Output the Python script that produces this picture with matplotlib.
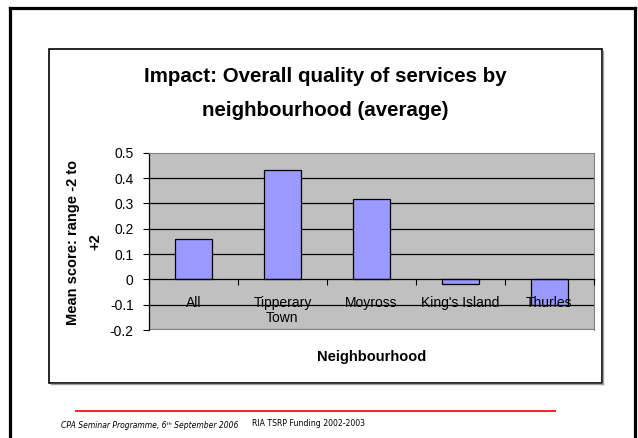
import matplotlib
matplotlib.use("Agg")
import matplotlib.pyplot as plt
from matplotlib.lines import Line2D
from matplotlib.patches import Rectangle
import numpy as np

plt.rcParams['font.family'] = ['Liberation Sans', 'DejaVu Sans']

barrios = ["All", "Tipperary\nTown", "Moyross", "King's Island", "Thurles"]
puntajes = [0.16, 0.433, 0.316, -0.02, -0.1]
marcas_y = [-0.2, -0.1, 0, 0.1, 0.2, 0.3, 0.4, 0.5]
etiquetas_y = ["-0.2", "-0.1", "0", "0.1", "0.2", "0.3", "0.4", "0.5"]

W, H = 638, 438
fig = plt.figure(figsize=(W / 100, H / 100), dpi=100)


# pasar de pixeles (origen arriba a la izquierda) a fraccion de figura
def fx(px):
    return px / W


def fy(py):
    return 1 - py / H


# marco exterior de la diapositiva (sin borde inferior)
for xs, ys in [([9.5, 9.5], [H, 7.5]), ([9.5, 634.5], [7.5, 7.5]),
               ([634.5, 634.5], [7.5, H])]:
    fig.add_artist(Line2D([fx(x) for x in xs], [fy(y) for y in ys],
                          color='black', lw=2.3))

# marco del grafico con sombra gris
fig.add_artist(Line2D([fx(603), fx(603)], [fy(51), fy(384)], color='#a0a0a0', lw=1))
fig.add_artist(Line2D([fx(51), fx(603)], [fy(384), fy(384)], color='#a0a0a0', lw=1))
fig.add_artist(Rectangle((fx(49), fy(382.5)), fx(552.5), (382.5 - 49) / H,
                         transform=fig.transFigure, fill=False,
                         edgecolor='black', lw=1.2))

# titulo
fig.text(fx(325.5), fy(82.5), "Impact: Overall quality of services by",
         ha='center', va='baseline', fontsize=14.8, fontweight='bold')
fig.text(fx(325.5), fy(116), "neighbourhood (average)",
         ha='center', va='baseline', fontsize=14.8, fontweight='bold')

# area de trazado
ax = fig.add_axes([fx(149), fy(330), fx(594 - 149), (330 - 152.7) / H])
ax.set_facecolor('#c0c0c0')
x = np.arange(len(barrios))
ax.bar(x, puntajes, width=0.42, color='#9999ff', edgecolor='black',
       linewidth=0.9, zorder=3)

ax.set_xlim(-0.5, len(barrios) - 0.5)
ax.set_ylim(-0.2, 0.5)
for v in marcas_y[1:-1]:
    if v != 0:
        ax.axhline(v, color='black', lw=0.9, zorder=1)

for lado in ['top', 'right']:
    ax.spines[lado].set_color('#808080')
ax.spines['left'].set_color('black')
ax.spines['left'].set_linewidth(0.9)
ax.spines['bottom'].set_position(('data', 0))
ax.spines['bottom'].set_color('black')
ax.spines['bottom'].set_linewidth(0.9)
ax.spines['bottom'].set_zorder(4)

# borde inferior gris del area
ax.axhline(-0.2, color='#808080', lw=1.6, zorder=2)

ax.set_yticks(marcas_y)
ax.set_yticklabels(etiquetas_y, fontsize=10)
ax.tick_params(axis='y', direction='out', length=4, width=0.8, pad=7)

ax.set_xticks(np.arange(len(barrios) + 1) - 0.5)
ax.set_xticklabels([])
ax.tick_params(axis='x', which='major', direction='out', length=4, width=0.8)
ax.set_xticks(x, minor=True)
ax.set_xticklabels(barrios, minor=True, fontsize=10, linespacing=1.1)
ax.tick_params(axis='x', which='minor', length=0, pad=12)
ax.xaxis.set_zorder(5)

# titulos de ejes
fig.text(fx(73), fy(242), "Mean score: range -2 to", rotation=90,
         ha='center', va='center', fontsize=10.5, fontweight='bold')
fig.text(fx(95), fy(242), "+2", rotation=90,
         ha='center', va='center', fontsize=10.5, fontweight='bold')
fig.text(fx(372), fy(357), "Neighbourhood", ha='center', va='center',
         fontsize=10.5, fontweight='bold')

# pie de pagina
fig.add_artist(Line2D([fx(76), fx(555)], [fy(411), fy(411)], color='#ff2020', lw=1.4))
fig.text(fx(61), fy(425), "CPA Seminar Programme, 6ᵗʰ September 2006",
         ha='left', va='center', fontsize=5.5, style='italic',
         family='DejaVu Sans')
fig.text(fx(252), fy(424), "RIA TSRP Funding 2002-2003",
         ha='left', va='center', fontsize=5.6, family='DejaVu Sans')

fig.savefig("out.png", dpi=100)
